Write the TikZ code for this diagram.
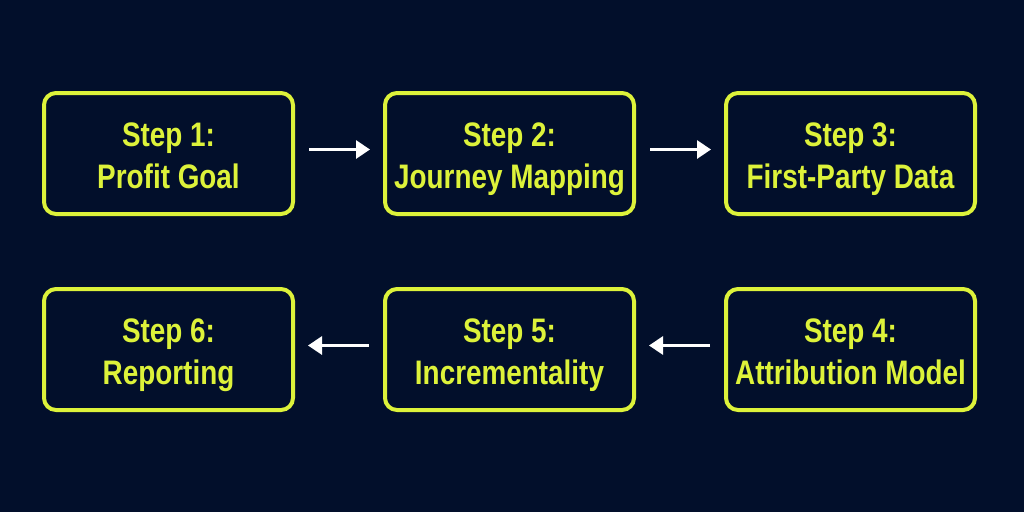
\documentclass[tikz,border=0pt]{standalone}
\usepackage{fontspec}
\setmainfont{Liberation Sans}[FakeStretch=0.82]
\usetikzlibrary{positioning,arrows.meta}
\definecolor{navyback}{HTML}{020F2B}
\definecolor{limeline}{HTML}{DDF23A}

\begin{document}
\begin{tikzpicture}[
	stepbox/.style={rectangle, rounded corners=12pt, draw=limeline, line width=4pt, minimum width=249pt, minimum height=121pt, inner sep=0pt, text=limeline, align=center, text height=69pt, text depth=0pt, font=\bfseries\fontsize{34}{42}\selectfont},
	flow/.style={-{Triangle[length=14pt,width=18pt]}, draw=white, line width=3pt, shorten <=14pt, shorten >=13pt},
	]
	%Background
	\fill[navyback] (0,0) rectangle (1024pt,-512pt);
	\useasboundingbox (0,0) rectangle (1024pt,-512pt);
	
	%Nodes
	\node[stepbox]      (s1)   at (168.5pt,-153.5pt) {Step 1:\\Profit Goal};
	\node[stepbox]      (s2)   [right=88pt of s1] {Step 2:\\Journey Mapping};
	\node[stepbox]      (s3)   [right=88pt of s2] {Step 3:\\First-Party Data};
	\node[stepbox]      (s6)   [below=71pt of s1] {Step 6:\\Reporting};
	\node[stepbox]      (s5)   [right=88pt of s6] {Step 5:\\Incrementality};
	\node[stepbox]      (s4)   [right=88pt of s5] {Step 4:\\Attribution Model};
	
	%Arrows
	\draw[flow] ([yshift=4pt]s1.east) -- ([yshift=4pt]s2.west);
	\draw[flow] ([yshift=4pt]s2.east) -- ([yshift=4pt]s3.west);
	\draw[flow] ([yshift=4pt]s4.west) -- ([yshift=4pt]s5.east);
	\draw[flow] ([yshift=4pt]s5.west) -- ([yshift=4pt]s6.east);
\end{tikzpicture}
\end{document}
